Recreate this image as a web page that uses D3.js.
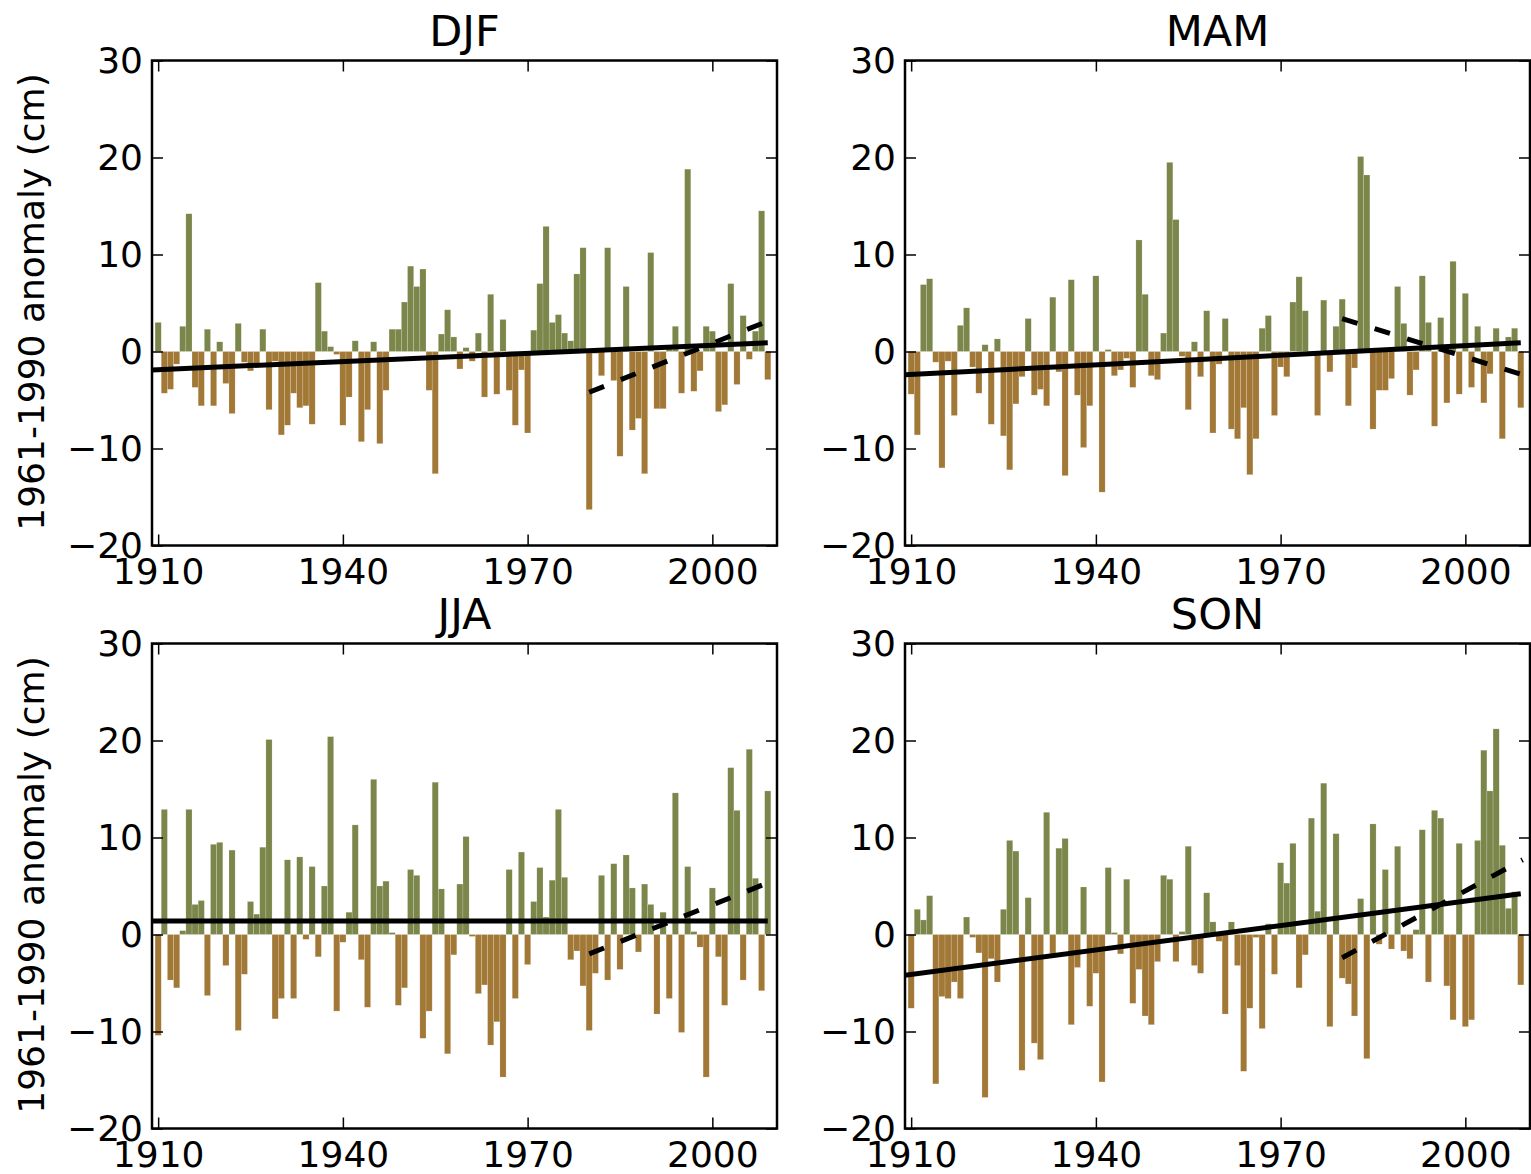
<!DOCTYPE html>
<html lang="en">
<head>
<meta charset="UTF-8">
<title>Seasonal anomaly 1910-2009</title>
<script src="https://cdn.jsdelivr.net/npm/d3@7"></script>
<style>
    body{
        margin:0px;
        background:white;
    }
    text{ font-family:"DejaVu Sans", sans-serif; fill:black; }
</style>
</head>
<body>
<svg id="chart"></svg>
<script>
// données (1910-2009), en cm
const years = d3.range(1910, 2010);
const seasons = ["DJF", "MAM", "JJA", "SON"];

const djf = [3.0,-4.3,-3.9,-1.3,2.6,14.2,-3.7,-5.6,2.3,-5.6,
    1.0,-3.3,-6.4,2.9,-1.1,-2.0,-1.5,2.3,-6.0,-1.0,
    -8.6,-7.6,-4.3,-5.8,-5.6,-7.5,7.1,2.1,0.5,-0.3,
    -7.6,-4.7,1.1,-9.3,-6.0,1.0,-9.5,-4.0,2.3,2.3,
    5.1,8.8,6.7,8.5,-4.0,-12.6,1.8,4.3,1.5,-1.8,
    0.4,-1.0,1.9,-4.7,5.9,-4.4,3.3,-4.0,-7.6,-1.9,
    -8.4,2.2,7.0,12.9,3.0,3.8,1.9,1.1,8.0,10.7,
    -16.3,-0.2,-2.5,10.7,-3.0,-10.8,6.7,-8.1,-6.9,-12.6,
    10.2,-5.9,-5.9,0.3,2.6,-4.3,18.8,-4.1,-2.0,2.6,
    2.1,-6.2,-5.5,7.0,-3.4,3.7,-0.8,2.1,14.5,-2.9];

const mam = [-4.4,-8.6,6.9,7.5,-1.1,-12.0,-1.0,-6.6,2.7,4.5,
    -1.6,-4.3,0.7,-7.5,1.3,-8.7,-12.2,-5.4,-2.6,3.4,
    -4.5,-3.9,-5.6,5.6,-2.1,-12.8,7.4,-4.5,-9.9,-5.6,
    7.8,-14.5,0.2,-2.5,-1.9,-0.7,-3.7,11.5,5.9,-2.5,
    -2.9,1.9,19.5,13.6,-0.5,-6.0,1.0,-2.6,4.2,-8.4,
    -1.3,3.4,-8.0,-9.0,-5.8,-12.7,-9.0,2.4,3.7,-6.6,
    -1.6,-2.6,5.1,7.7,4.2,-0.3,-6.6,5.3,-2.1,2.6,
    5.4,-5.6,-1.7,20.1,18.2,-8.0,-4.0,-4.0,-2.8,6.7,
    2.9,-4.5,-1.9,7.8,3.0,-7.7,3.5,-5.3,9.3,-4.4,
    6.0,-3.7,2.6,-5.3,-2.3,2.4,-9.0,1.5,2.4,-5.8];

const jja = [-10.4,12.9,-4.7,-5.5,0.4,12.9,3.1,3.5,-6.3,9.3,
    9.5,-3.2,8.7,-9.9,-4.1,3.4,2.1,9.0,20.1,-8.7,
    -6.6,7.7,-6.6,8.0,-0.5,7.0,-2.3,5.0,20.4,-7.9,
    -0.8,2.3,11.3,-2.6,-7.5,16.0,5.0,5.5,0.2,-7.3,
    -5.5,6.7,6.1,-10.7,-7.9,15.7,4.7,-12.3,-2.1,5.2,
    10.1,-0.2,-6.1,-5.2,-11.4,-9.0,-14.7,6.7,-6.6,8.5,
    -3.1,3.4,6.9,1.8,5.6,12.9,5.9,-2.6,-1.7,-5.3,
    -9.9,-4.0,6.1,-4.7,7.3,-3.6,8.2,4.8,-1.8,5.2,
    3.1,-8.2,2.3,-6.6,14.6,-10.1,7.0,0.3,-1.3,-14.7,
    4.8,-2.3,-7.3,17.2,12.8,-4.7,19.1,5.8,-5.8,14.8];

const son = [-7.6,2.6,1.5,4.0,-15.4,-6.4,-6.6,-4.9,-6.6,1.8,
    -0.3,-1.9,-16.8,-2.5,-4.9,2.6,9.7,8.6,-14.0,3.8,
    -11.2,-12.9,12.6,-2.0,8.9,9.9,-9.3,-3.4,4.9,-7.4,
    -4.0,-15.2,6.9,0.2,-2.0,5.7,-7.1,-3.6,-8.4,-9.3,
    -2.8,6.1,5.7,-2.8,0.3,9.1,-3.2,-4.0,4.3,1.3,
    -0.7,-8.2,1.3,-3.2,-14.1,-7.6,-0.3,-9.7,1.1,-4.1,
    7.4,5.3,9.4,-5.5,-2.1,12.0,2.4,15.6,-9.5,10.4,
    -4.5,-5.1,-8.4,3.7,-12.8,11.4,-1.0,6.7,-1.5,9.1,
    -1.7,-2.5,0.5,10.8,-4.9,12.8,12.0,-5.3,-8.8,9.4,
    -9.5,-8.8,9.7,19.0,14.8,21.2,9.2,2.7,4.4,-5.2];

// tendances : toute la période (trait plein) et depuis 1980 (tirets)
const trendYears = [1909, 2009];
const djfTrend = [-1.9, 0.9];
const mamTrend = [-2.4, 0.9];
const jjaTrend = [1.4, 1.4];
const sonTrend = [-4.2, 4.2];

const recentYears = [1980, 2009.3];
const djfRecent = [-4.2, 3.2];
const mamRecent = [3.4, -2.4];
const jjaRecent = [-2.0, 5.4];
const sonRecent = [-2.4, 7.7];

const xTicks = [1910, 1940, 1970, 2000];
const yTicks = [-20, -10, 0, 10, 20, 30];
const yLabel = "1961-1990 anomaly (cm)";

const series = [djf, mam, jja, son];
const trends = [djfTrend, mamTrend, jjaTrend, sonTrend];
const recents = [djfRecent, mamRecent, jjaRecent, sonRecent];

// mise en page
const W = 1531, H = 1174;
const cols = [152, 905], rows = [60.5, 643.5];
const pw = 625, ph = 485;
const cWet = "#7b864a", cDry = "#a27837";
const fs = 36;

const svg = d3.select('#chart').attr('width', W).attr('height', H);
svg.append('rect').attr('width', W).attr('height', H).attr('fill', 'white');

seasons.forEach(function(name, i){
    let left = cols[i % 2], top = rows[Math.floor(i / 2)];
    let x = d3.scaleLinear().domain([1909, 2010.5]).range([left, left + pw]);
    let y = d3.scaleLinear().domain([-20, 30]).range([top + ph, top]);
    let g = svg.append('g');

    g.append('clipPath').attr('id', 'clip' + i)
        .append('rect').attr('x', left).attr('y', top).attr('width', pw).attr('height', ph);

    let plot = g.append('g').attr('clip-path', 'url(#clip' + i + ')');
    let vals = series[i];

    //barres
    plot.selectAll('rect.bar').data(years).join('rect')
        .attr('class', 'bar')
        .attr('x', d => x(d - 0.5))
        .attr('width', d => x(d + 0.5) - x(d - 0.5))
        .attr('y', (d, j) => y(Math.max(0, vals[j])))
        .attr('height', (d, j) => Math.abs(y(vals[j]) - y(0)))
        .attr('fill', (d, j) => vals[j] >= 0 ? cWet : cDry)
        .attr('stroke', 'rgba(255,255,255,0.35)')
        .attr('stroke-width', 0.5);

    let line = d3.line().x(d => x(d[0])).y(d => y(d[1]));
    plot.append('path')
        .attr('d', line(d3.zip(trendYears, trends[i])))
        .attr('fill', 'none').attr('stroke', 'black').attr('stroke-width', 5);
    plot.append('path')
        .attr('d', line(d3.zip(recentYears, recents[i])))
        .attr('fill', 'none').attr('stroke', 'black').attr('stroke-width', 5)
        .attr('stroke-dasharray', '16,18');

    //axes, graduations vers l'intérieur sur les 4 côtés
    let tk = 11;
    let ax = [
        d3.axisBottom(x).tickValues(xTicks).tickFormat(d3.format('d')).tickSize(-tk).tickPadding(13),
        d3.axisTop(x).tickValues(xTicks).tickFormat('').tickSize(-tk),
        d3.axisLeft(y).tickValues(yTicks).tickSize(-tk).tickPadding(9),
        d3.axisRight(y).tickValues(yTicks).tickFormat('').tickSize(-tk)
    ];
    let pos = ['translate(0,' + (top + ph) + ')', 'translate(0,' + top + ')',
               'translate(' + left + ',0)', 'translate(' + (left + pw) + ',0)'];
    ax.forEach(function(a, k){
        let ga = g.append('g').attr('transform', pos[k]).call(a);
        ga.select('.domain').remove();
        ga.selectAll('line').attr('stroke', 'black').attr('stroke-width', 1.5);
        ga.selectAll('text').attr('font-size', fs + 'px')
            .attr('font-family', '"DejaVu Sans", sans-serif').attr('fill', 'black');
    });

    g.append('rect').attr('x', left).attr('y', top).attr('width', pw).attr('height', ph)
        .attr('fill', 'none').attr('stroke', 'black').attr('stroke-width', 2.5);

    g.append('text')
        .attr('x', left + pw / 2).attr('y', top - 15)
        .attr('text-anchor', 'middle')
        .attr('font-size', '43px')
        .text(name);

    if(i % 2 == 0){
        g.append('text')
            .attr('transform', 'translate(44,' + (top + ph / 2 - 1) + ') rotate(-90)')
            .attr('text-anchor', 'middle')
            .attr('font-size', fs + 'px')
            .text(yLabel);
    }
});
</script>
</body>
</html>
